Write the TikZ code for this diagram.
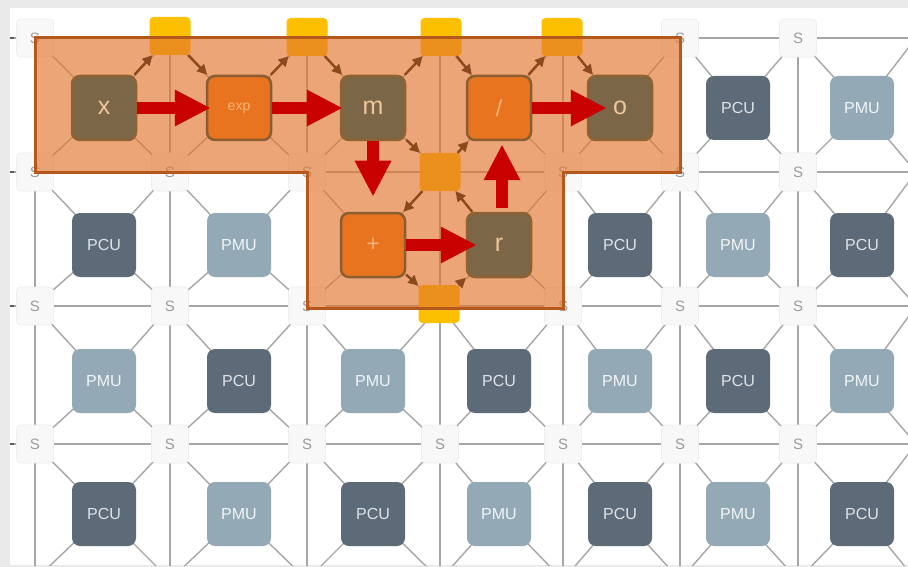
\documentclass[tikz,border=0pt]{standalone}
\usepackage{fontspec}
\setmainfont{Liberation Sans}
\usetikzlibrary{arrows.meta}
\definecolor{bgray}{HTML}{EAEAEA}
\definecolor{gridc}{HTML}{A6A6A6}
\definecolor{sfill}{HTML}{F8F8F8}
\definecolor{sdraw}{HTML}{EDEDED}
\definecolor{stext}{HTML}{9C9C9C}
\definecolor{pcuc}{HTML}{5D6A78}
\definecolor{pmuc}{HTML}{93A9B6}
\definecolor{pcut}{HTML}{DFE3E7}
\definecolor{pmut}{HTML}{F2F5F7}
\definecolor{hisw}{HTML}{FCC000}
\definecolor{ovfill}{RGB}{227,118,46}
\definecolor{ovdraw}{HTML}{B4581E}
\definecolor{brownf}{HTML}{7B6647}
\definecolor{brownd}{HTML}{8E6232}
\definecolor{brownt}{HTML}{EFC79C}
\definecolor{orangef}{HTML}{E8741F}
\definecolor{oranged}{HTML}{8A5D33}
\definecolor{oranget}{HTML}{F6B27A}
\definecolor{sarrowc}{HTML}{8B4A1D}
\definecolor{redc}{HTML}{C80000}
\begin{document}
\begin{tikzpicture}[x=1pt,y=-1pt,
  gridline/.style={draw=gridc,line width=1.4pt},
  swbox/.style={rectangle,rounded corners=4pt,fill=sfill,draw=sdraw,line width=0.6pt,
    minimum width=37pt,minimum height=38pt,inner sep=0pt,text=stext,
    font=\fontsize{15}{15}\selectfont},
  hiswbox/.style={rectangle,rounded corners=4pt,fill=hisw,
    minimum width=41pt,minimum height=38pt,inner sep=0pt},
  unitbox/.style={rectangle,rounded corners=8pt,minimum width=64pt,minimum height=64pt,
    inner sep=0pt,font=\fontsize{16}{16}\selectfont},
  pcu/.style={unitbox,fill=pcuc,text=pcut},
  pmu/.style={unitbox,fill=pmuc,text=pmut},
  opb/.style={unitbox,fill=brownf,draw=brownd,line width=2.5pt,text=brownt,
    font=\fontsize{25}{25}\selectfont},
  opo/.style={unitbox,fill=orangef,draw=oranged,line width=2.5pt,text=oranget,
    font=\fontsize{23}{23}\selectfont},
  sarrow/.style={draw=sarrowc,line width=2.4pt,-{Triangle[length=10pt,width=10pt]},shorten <=0pt},
  rarrow/.style={draw=redc,line width=12pt,-{Triangle[length=36pt,width=34pt]}}
]
\useasboundingbox (0,0) rectangle (908,567);
\fill[bgray] (0,0) rectangle (908,567);
\fill[white] (10,8) rectangle (908,565);

% switch coordinates (including virtual ones outside the frame)
\foreach \sx [count=\i from 0] in {35,170,307,440,563,680,798,916} {
  \foreach \sy [count=\j from 0] in {38,172,306,444,580} {
    \coordinate (sc-\j-\i) at (\sx,\sy);
  }
}
% unit coordinates
\foreach \ux [count=\c from 0] in {104,239,373,499,620,738,862} {
  \foreach \uy [count=\r from 0] in {108,245,381,514} {
    \coordinate (uc-\r-\c) at (\ux,\uy);
  }
}

\begin{scope}
\clip (10,8) rectangle (908,565);
% horizontal and vertical lines
\foreach \j in {0,...,3} {
  \draw[gridline] (sc-\j-0) ++(-25,0) -- (sc-\j-7);
  \draw[draw=black!65,line width=1.5pt] (sc-\j-0) ++(-25,0) -- ++(4,0);
}
\foreach \i in {0,...,6} {
  \draw[gridline] (sc-0-\i) -- (sc-4-\i);
}
% diagonals
\foreach \c [evaluate=\c as \cn using int(\c+1)] in {0,...,6} {
  \foreach \r [evaluate=\r as \rn using int(\r+1)] in {0,...,3} {
    \draw[gridline] (sc-\r-\c) -- (uc-\r-\c) -- (sc-\rn-\cn);
    \draw[gridline] (sc-\r-\cn) -- (uc-\r-\c) -- (sc-\rn-\c);
  }
}
\end{scope}

% plain switches
\foreach \i in {0,...,6} {
  \foreach \j in {0,...,3} {
    \pgfmathtruncatemacro{\skipsw}{((\j==0 && \i>0 && \i<5) || (\j==1 && \i==3) || (\j==2 && \i==3)) ? 1 : 0}
    \ifnum\skipsw=0
      \node[swbox] (s-\j-\i) at (sc-\j-\i) {S};
    \fi
  }
}
% plain units
\foreach \c in {0,...,6} {
  \foreach \r in {0,...,3} {
    \pgfmathtruncatemacro{\parity}{mod(\r+\c,2)}
    \pgfmathtruncatemacro{\skipit}{((\r==0 && \c<5) || (\r==1 && (\c==2 || \c==3))) ? 1 : 0}
    \ifnum\skipit=0
      \ifnum\parity=1
        \node[pcu] (u-\r-\c) at (uc-\r-\c) {PCU};
      \else
        \node[pmu] (u-\r-\c) at (uc-\r-\c) {PMU};
      \fi
    \fi
  }
}

% highlighted switches
\node[hiswbox] (sw01) at (170,36) {};
\node[hiswbox] (sw02) at (307,37) {};
\node[hiswbox] (sw03) at (441,37) {};
\node[hiswbox] (sw04) at (562,37) {};
\node[hiswbox] (sw13) at (440,172) {};
\node[hiswbox] (sw23) at (439,304) {};

% mapped region overlay
\fill[ovfill,fill opacity=0.65] (35,38) -- (680,38) -- (680,173) -- (563,173) -- (563,308)
  -- (307,308) -- (307,173) -- (35,173) -- cycle;
\draw[ovdraw,line width=3pt,line join=miter] (35,38) -- (680,38) -- (680,173) -- (563,173) -- (563,308)
  -- (307,308) -- (307,173) -- (35,173) -- cycle;

% mapped operations
\node[opb] (x) at (104,108) {x};
\node[opo,font=\fontsize{14}{14}\selectfont] (exp) at (239,108) {exp};
\node[opb] (m) at (373,108) {m};
\node[opo] (slash) at (499,108) {/};
\node[opb] (o) at (620,108) {o};
\node[opo] (plus) at (373,245) {+};
\node[opb] (r) at (499,245) {r};

% routing arrows
\draw[sarrow] (x) -- (sw01);
\draw[sarrow] (sw01) -- (exp);
\draw[sarrow] (exp) -- (sw02);
\draw[sarrow] (sw02) -- (m);
\draw[sarrow] (m) -- (sw03);
\draw[sarrow] (sw03) -- (slash);
\draw[sarrow] (slash) -- (sw04);
\draw[sarrow] (sw04) -- (o);
\draw[sarrow] (m) -- (sw13);
\draw[sarrow] (sw13) -- (slash);
\draw[sarrow] (sw13) -- (plus);
\draw[sarrow] (r) -- (sw13);
\draw[sarrow] (plus) -- (sw23);
\draw[sarrow] (sw23) -- (r);

% dataflow arrows
\draw[rarrow] (x.east) -- ([xshift=5pt]exp.west);
\draw[rarrow] (exp.east) -- ([xshift=3pt]m.west);
\draw[rarrow] (m.south) -- ([yshift=15pt]plus.north);
\draw[rarrow] (plus.east) -- ([xshift=11pt]r.west);
\draw[rarrow] ([xshift=3pt,yshift=4pt]r.north) -- ([xshift=3pt,yshift=-3pt]slash.south);
\draw[rarrow] (slash.east) -- ([xshift=20pt]o.west);
\end{tikzpicture}
\end{document}
